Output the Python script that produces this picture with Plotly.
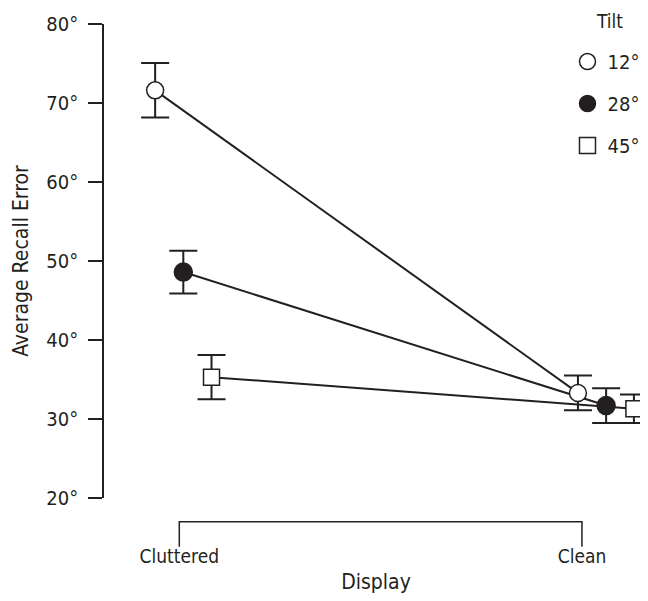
import plotly.graph_objects as go

# ---- data ----
displays = ["Cluttered", "Clean"]
tilt_labels = ["12°", "28°", "45°"]
legend_title = "Tilt"
mean_12 = [71.6, 33.3]
err_12 = [3.45, 2.2]
mean_28 = [48.6, 31.7]
err_28 = [2.7, 2.2]
mean_45 = [35.3, 31.3]
err_45 = [2.8, 1.8]
y_ticks = [20, 30, 40, 50, 60, 70, 80]
y_tick_text = [f"{v}°" for v in y_ticks]

# ---- style ----
INK = "#231f20"
FONT = "DejaVu Sans Condensed, DejaVu Sans, sans-serif"
FS = 20
# horizontal dodge (axis units) per series, per display
dodge = {
    "12°": [-0.060, -0.010],
    "28°": [0.010, 0.060],
    "45°": [0.080, 0.129],
}
markers = {
    "12°": dict(symbol="circle", color="white", size=17),
    "28°": dict(symbol="circle", color=INK, size=18),
    "45°": dict(symbol="square", color="white", size=16),
}
series = {"12°": (mean_12, err_12), "28°": (mean_28, err_28), "45°": (mean_45, err_45)}

fig = go.Figure()
# connecting lines (no legend)
for lab in tilt_labels:
    means, errs = series[lab]
    xs = [k + dodge[lab][k] for k in range(len(displays))]
    fig.add_trace(go.Scatter(
        x=xs, y=means, mode="lines", showlegend=False, hoverinfo="skip",
        line=dict(color=INK, width=2), cliponaxis=False,
    ))
# markers with error bars (legend)
for lab in tilt_labels:
    means, errs = series[lab]
    xs = [k + dodge[lab][k] for k in range(len(displays))]
    m = markers[lab]
    fig.add_trace(go.Scatter(
        x=xs, y=means, name=lab, mode="markers",
        legendgroup=lab,
        marker=dict(symbol=m["symbol"], color=m["color"], size=m["size"],
                    line=dict(color=INK, width=1.5)),
        error_y=dict(type="data", array=errs, visible=True, color=INK,
                     thickness=2, width=14),
        cliponaxis=False,
    ))

# bracket for x axis
y_line = -0.05
y_end = -0.103
fig.add_shape(type="path",
              path=f"M 0,{y_end} L 0,{y_line} L 1,{y_line} L 1,{y_end}",
              xref="x", yref="paper", line=dict(color=INK, width=1.5))

# legend title as annotation
fig.add_annotation(text=legend_title, x=0.930, y=1.006,
                   xref="paper", yref="paper", xanchor="center", yanchor="middle",
                   showarrow=False, font=dict(size=FS - 1))

# page body has an 8px margin: figure is sized/offset to compensate
fig.update_layout(
    width=640, height=593,
    margin=dict(l=96, r=0, t=16, b=103, autoexpand=False),
    plot_bgcolor="white", paper_bgcolor="white",
    font=dict(family=FONT, size=FS, color=INK),
    showlegend=True,
    legend=dict(
        x=0.852, xanchor="left", y=0.962, yanchor="top",
        tracegroupgap=13, bgcolor="rgba(0,0,0,0)",
        font=dict(size=FS),
    ),
    xaxis=dict(
        range=[-0.187, 1.164], tickvals=[0, 1], ticktext=displays,
        showline=False, showgrid=False, zeroline=False, ticks="",
        ticklabelstandoff=45, automargin=False, tickfont=dict(size=19),
        title=dict(text="Display", standoff=8, font=dict(size=21)),
    ),
    yaxis=dict(
        range=[20, 80], tickvals=y_ticks, ticktext=y_tick_text,
        showline=True, linecolor=INK, linewidth=1.5,
        ticks="outside", ticklen=14, tickwidth=1.5, tickcolor=INK,
        ticklabelstandoff=6, automargin=False,
        showgrid=False, zeroline=False,
        title=dict(text="Average Recall Error", standoff=12, font=dict(size=21)),
    ),
)

fig.write_html("out.html")
